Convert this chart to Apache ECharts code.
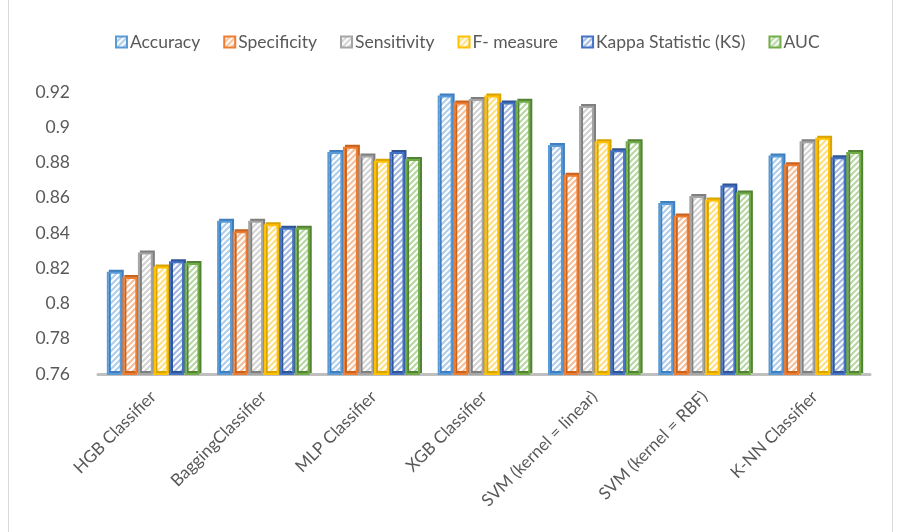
<!DOCTYPE html>
<html>
<head>
<meta charset="utf-8">
<script src="https://cdn.jsdelivr.net/npm/echarts@6/dist/echarts.min.js"></script>
<style>
  html, body { margin: 0; padding: 0; background: #fff; }
  #chart { width: 901px; height: 532px; }
</style>
</head>
<body>
<div id="chart"></div>
<script>
// Classifier names on the x axis
const categories = ['HGB Classifier', 'BaggingClassifier', 'MLP Classifier', 'XGB Classifier',
  'SVM (kernel = linear)', 'SVM (kernel = RBF)', 'K-NN Classifier'];

// Metric values per classifier
const accuracy    = [0.818, 0.847, 0.886, 0.918, 0.890, 0.857, 0.884];
const specificity = [0.815, 0.841, 0.889, 0.914, 0.873, 0.850, 0.879];
const sensitivity = [0.829, 0.847, 0.884, 0.916, 0.912, 0.861, 0.892];
const fMeasure    = [0.821, 0.845, 0.881, 0.918, 0.892, 0.859, 0.894];
const kappa       = [0.824, 0.843, 0.886, 0.914, 0.887, 0.867, 0.883];
const auc         = [0.823, 0.843, 0.882, 0.915, 0.892, 0.863, 0.886];

// Y axis range
const yMin = 0.76, yMax = 0.92, yStep = 0.02;

const seriesDefs = [
  { name: 'Accuracy',             data: accuracy,    color: '#5B9BD5', dark: '#3F7FBF' },
  { name: 'Specificity',          data: specificity, color: '#ED7D31', dark: '#C9621D' },
  { name: 'Sensitivity',          data: sensitivity, color: '#A5A5A5', dark: '#7F7F7F' },
  { name: 'F- measure',           data: fMeasure,    color: '#FFC000', dark: '#D9A300' },
  { name: 'Kappa Statistic (KS)', data: kappa,       color: '#4472C4', dark: '#2F5597' },
  { name: 'AUC',                  data: auc,         color: '#70AD47', dark: '#548235' }
];

// Wide upward-diagonal hatch fill
function hatch(color) {
  const s = 6;
  const c = document.createElement('canvas');
  c.width = s; c.height = s;
  const g = c.getContext('2d');
  g.fillStyle = '#ffffff';
  g.fillRect(0, 0, s, s);
  g.strokeStyle = color;
  g.globalAlpha = 0.5;
  g.lineWidth = 2;
  for (let k = -1; k <= 1; k++) {
    g.beginPath();
    g.moveTo(k * s - 1, s + 1);
    g.lineTo(k * s + s + 1, -1);
    g.stroke();
  }
  return { image: c, repeat: 'repeat' };
}

const chart = echarts.init(document.getElementById('chart'), null, { renderer: 'canvas' });

chart.setOption({
  animation: false,
  backgroundColor: '#ffffff',
  graphic: [{
    type: 'rect',
    shape: { x: 8.5, y: -2, width: 884, height: 540 },
    style: { fill: 'none', stroke: '#D9D9D9', lineWidth: 1 },
    silent: true
  }],
  legend: {
    top: 28,
    left: 110,
    icon: 'rect',
    itemWidth: 11,
    itemHeight: 11,
    itemGap: 23,
    textStyle: { fontFamily: 'Lato', fontSize: 17.5, color: '#595959', padding: [0, 0, 0, -2] },
    data: seriesDefs.map(s => s.name)
  },
  grid: { left: 98, right: 31, top: 92, bottom: 158, containLabel: false },
  xAxis: {
    type: 'category',
    data: categories,
    axisLine: { show: true, lineStyle: { color: '#BFBFBF', width: 3 } },
    axisTick: { show: false },
    axisLabel: {
      rotate: 45,
      margin: 20,
      interval: 0,
      fontFamily: 'Lato',
      fontSize: 17,
      color: '#595959'
    }
  },
  yAxis: {
    type: 'value',
    min: yMin,
    max: yMax,
    interval: yStep,
    axisLine: { show: false },
    axisTick: { show: false },
    splitLine: { show: false },
    axisLabel: {
      margin: 28,
      fontFamily: 'Lato',
      fontSize: 17.5,
      color: '#595959'
    }
  },
  series: seriesDefs.map(s => ({
    name: s.name,
    type: 'bar',
    data: s.data,
    barGap: '4%',
    barCategoryGap: '16%',
    itemStyle: {
      color: hatch(s.color),
      borderColor: s.color,
      borderWidth: 2,
      shadowColor: s.dark,
      shadowOffsetX: 2,
      shadowOffsetY: -2,
      shadowBlur: 0
    }
  }))
});
</script>
</body>
</html>
